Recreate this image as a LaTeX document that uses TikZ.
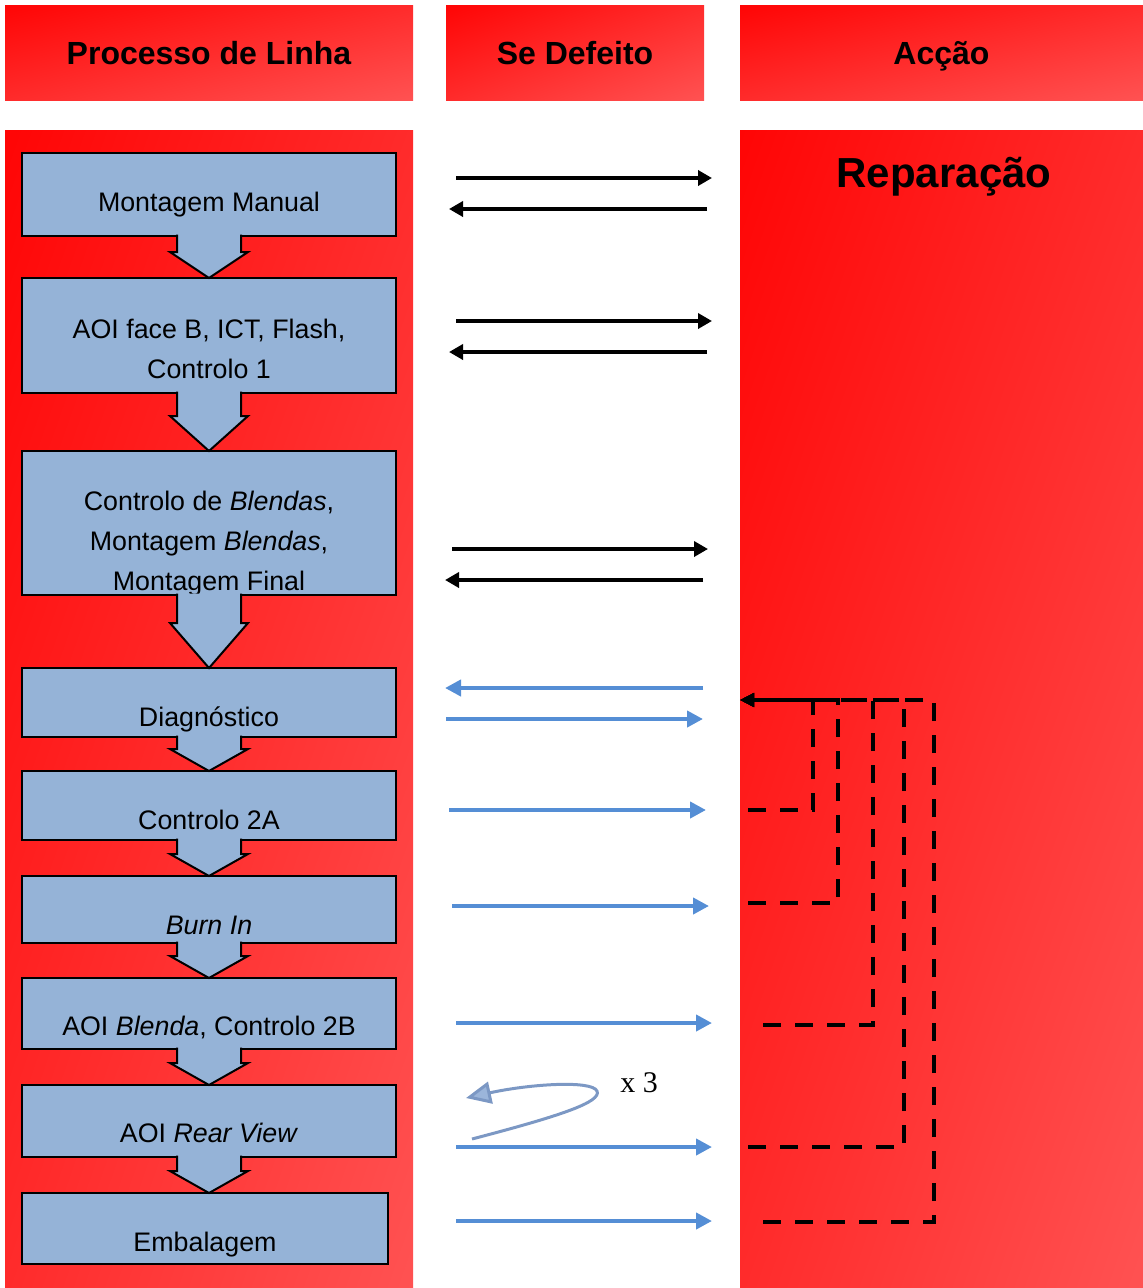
\documentclass[tikz,border=0pt]{standalone}
\usepackage{fontspec}
\setmainfont{Liberation Sans}
\newfontfamily\timesfont{Liberation Serif}
\usetikzlibrary{calc}
\usetikzlibrary{arrows.meta}
\usetikzlibrary{shadings}
\definecolor{boxblue}{HTML}{95B3D7}
\definecolor{flowblue}{HTML}{558ED5}
\definecolor{curveblue}{HTML}{7C98C4}
\definecolor{tipblue}{HTML}{9BB5DA}
\definecolor{redA}{HTML}{FF0505}
\definecolor{redM}{HTML}{FF2B2B}
\definecolor{redB}{HTML}{FF5252}
\tikzset{
        redpanel/.style={upper left=redA, upper right=redM, lower left=redM, lower right=redB},
        headbox/.style={redpanel, inner sep=0pt, outer sep=0pt, text height=23pt, text depth=0pt,
                font=\fontsize{32}{38}\selectfont\bfseries},
        procbox/.style={draw=black, fill=boxblue, line width=2pt, inner sep=0pt, outer sep=0pt,
                minimum width=374pt},
        proctext/.style={font=\fontsize{26.8}{40}\selectfont, inner sep=0pt, align=center},
        blockarrow/.style={draw=black, fill=boxblue, line width=2pt, line join=miter},
        defarrow/.style={line width=4pt, -{Triangle[length=14pt,width=15pt]}},
        bluearrow/.style={flowblue, line width=4pt, -{Triangle[length=16pt,width=16pt]}},
        retline/.style={line width=4.5pt, dash pattern=on 18pt off 14pt, -{Triangle[length=14pt,width=13pt]}},
        looparrow/.style={curveblue, line width=3pt, -{Triangle[length=25pt,width=22pt,fill=tipblue]}}
}
\newcommand{\flowarrow}[3]{\filldraw[blockarrow] let \p1=(#1.south), \p2=(#2.north) in (\x1-32pt,\y1+1.5pt) -- (\x1-32pt,\y2+#3) -- (\x1-39pt,\y2+#3) -- (\x1,\y2) -- (\x1+39pt,\y2+#3) -- (\x1+32pt,\y2+#3) -- (\x1+32pt,\y1+1.5pt);}

\begin{document}
\begin{tikzpicture}[x=1pt,y=-1pt]
        \useasboundingbox (0,0) rectangle (1143,1288);
        %headers
        \node[headbox, minimum width=408pt, minimum height=95pt] (h1) at (209,52.5) {Processo de Linha};
        \node[headbox, minimum width=258pt, minimum height=95pt] (h2) at (575,52.5) {Se Defeito};
        \node[headbox, minimum width=403pt, minimum height=95pt] (h3) at (941.5,52.5) {Acção};
        %columns
        \shade[redpanel] (5,130) rectangle (413,1288);
        \shade[redpanel] (740,130) rectangle (1143,1288);
        \node[font=\fontsize{42}{48}\selectfont\bfseries, anchor=base, inner sep=0pt] (rep) at (944,187) {Reparação};

        %process line
        \node[procbox, minimum height=83pt] (m1) at (209,194.5) {};
        \node[procbox, minimum height=115pt] (m2) at (209,335.5) {};
        \node[procbox, minimum height=144pt] (m3) at (209,523) {};
        \node[procbox, minimum height=69pt] (m4) at (209,702.5) {};
        \node[procbox, minimum height=69pt] (m5) at (209,805.5) {};
        \node[procbox, minimum height=67pt] (m6) at (209,909.5) {};
        \node[procbox, minimum height=71pt] (m7) at (209,1013.5) {};
        \node[procbox, minimum height=72pt] (m8) at (209,1121) {};
        \node[procbox, minimum height=71pt, minimum width=366pt] (m9) at (205,1228.5) {};

        \node[proctext, anchor=base] (t1) at (209,211) {Montagem Manual};
        \node[proctext] (t2) at (209,349) {AOI face B, ICT, Flash,\\Controlo 1};
        \begin{scope}
                \clip (m3.south west) rectangle (m3.north east);
                \node[proctext] (t3) at (209,544) {Controlo de \textit{Blendas},\\Montagem \textit{Blendas},\\Montagem Final};
        \end{scope}
        \node[proctext, anchor=base] (t4) at (209,726) {Diagnóstico};
        \node[proctext, anchor=base] (t5) at (209,829) {Controlo 2A};
        \node[proctext, anchor=base] (t6) at (209,934) {\textit{Burn In}};
        \node[proctext, anchor=base] (t7) at (209,1035) {AOI \textit{Blenda}, Controlo 2B};
        \node[proctext, anchor=base] (t8) at (209,1142) {AOI \textit{Rear View}};
        \begin{scope}
                \clip (m9.south west) rectangle (m9.north east);
                \node[proctext, anchor=base] (t9) at (205,1251) {Embalagem};
        \end{scope}

        \flowarrow{m1}{m2}{26pt}
        \flowarrow{m2}{m3}{35pt}
        \flowarrow{m3}{m4}{45pt}
        \flowarrow{m4}{m5}{22pt}
        \flowarrow{m5}{m6}{22pt}
        \flowarrow{m6}{m7}{22pt}
        \flowarrow{m7}{m8}{22pt}
        \flowarrow{m8}{m9}{22pt}

        %defect arrows
        \foreach \y/\a/\b in {178/456/712, 209/707/449, 321/456/712, 352/707/449, 549/452/708, 580/703/445}
                \draw[defarrow] (\a,\y) -- (\b,\y);
        \foreach \y/\a/\b in {688/703/445, 719/446/703, 810/449/706, 906/452/709, 1023/456/712, 1147/456/712, 1221/456/712}
                \draw[bluearrow] (\a,\y) -- (\b,\y);

        %repeat loop
        \draw[looparrow] (472,1139) .. controls (560,1116) and (602,1102) .. (597,1091) .. controls (592,1080) and (530,1084) .. (466,1098);
        \node[font=\timesfont\fontsize{30}{36}\selectfont, anchor=base, inner sep=0pt] (times) at (639,1092) {x 3};

        %return to repair
        \coordinate (back) at (740,700);
        \foreach \y/\x/\s in {810/813/748, 903/838/748, 1025/873/763, 1147/904/748, 1222/934/763}
                \draw[retline] (\s,\y) -- (\x,\y) -- (\x,700) -- (back);
\end{tikzpicture}
\end{document}
